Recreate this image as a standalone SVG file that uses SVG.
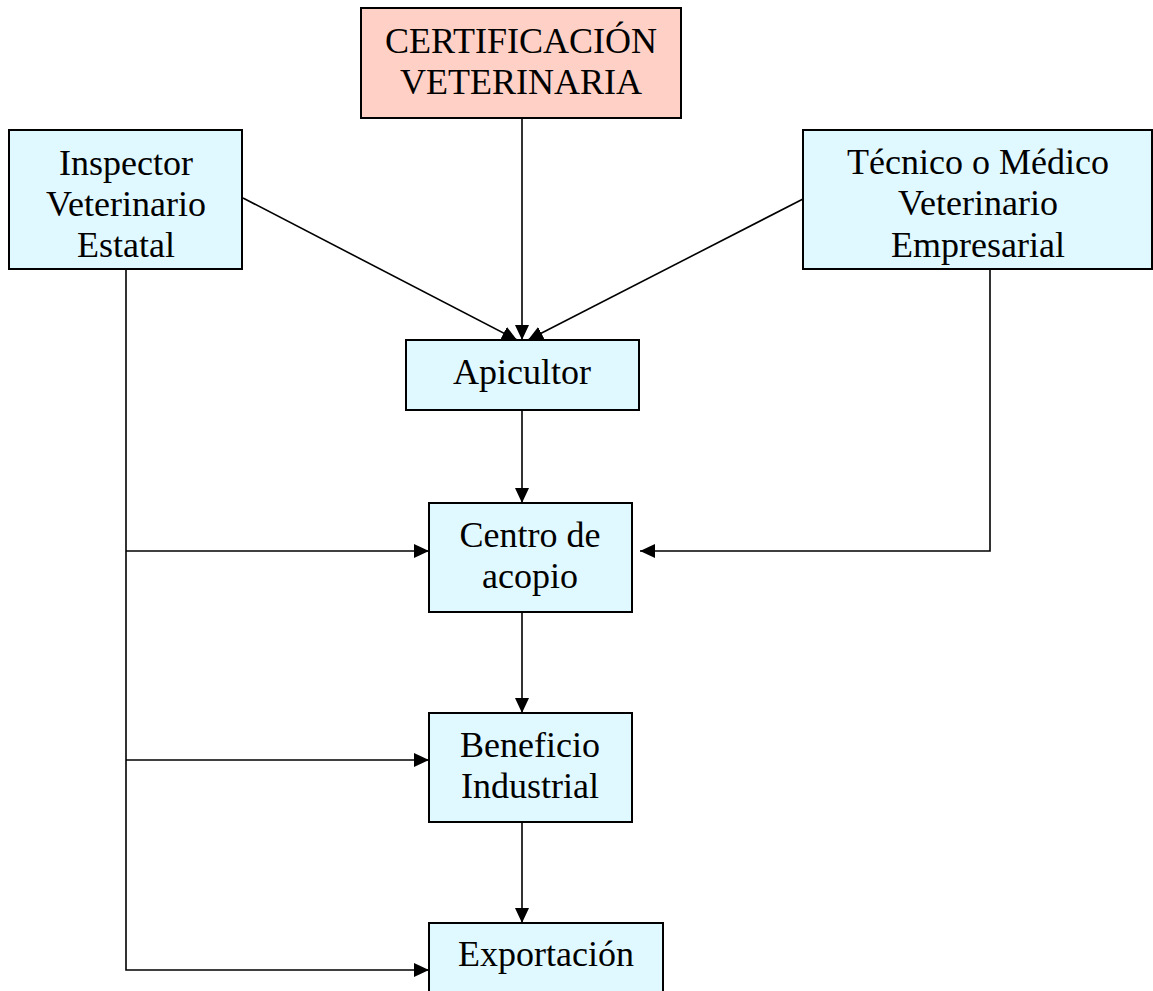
<svg xmlns="http://www.w3.org/2000/svg" width="1153" height="991" viewBox="0 0 1153 991">
<style>
.box{fill:#e0f8ff;stroke:#000;stroke-width:2}
.pink{fill:#ffd0c6;stroke:#000;stroke-width:2}
.t{font-family:"Liberation Serif","Times New Roman",serif;font-size:36px;fill:#000;text-anchor:middle}
.c{fill:none;stroke:#000;stroke-width:1.6}
</style>
<defs>
<marker id="ah" markerWidth="15" markerHeight="14" refX="15" refY="7" orient="auto" markerUnits="userSpaceOnUse">
<path d="M0,0 L15,7 L0,14 Z" fill="#000"/>
</marker>
</defs>
<rect width="1153" height="991" fill="#fff"/>
<g id="connectors">
<path class="c" d="M522,118 V340" marker-end="url(#ah)"/>
<path class="c" d="M243,198 L517,340" marker-end="url(#ah)"/>
<path class="c" d="M803,199 L528,340" marker-end="url(#ah)"/>
<path class="c" d="M522,410 V503" marker-end="url(#ah)"/>
<path class="c" d="M522,612 V713" marker-end="url(#ah)"/>
<path class="c" d="M522,822 V923" marker-end="url(#ah)"/>
<path class="c" d="M126,269 V970 H429" marker-end="url(#ah)"/>
<path class="c" d="M126,551 H429" marker-end="url(#ah)"/>
<path class="c" d="M126,760 H429" marker-end="url(#ah)"/>
<path class="c" d="M990,269 V551 H640" marker-end="url(#ah)"/>
</g>
<g id="certificacion">
<rect class="pink" x="361" y="8" width="320" height="110"/>
<text class="t" x="521" y="53">CERTIFICACIÓN</text>
<text class="t" x="521" y="94">VETERINARIA</text>
</g>
<g id="inspector">
<rect class="box" x="9" y="130" width="233" height="139"/>
<text class="t" x="126" y="175">Inspector</text>
<text class="t" x="126" y="216">Veterinario</text>
<text class="t" x="126" y="257">Estatal</text>
</g>
<g id="tecnico">
<rect class="box" x="803" y="130" width="349" height="139"/>
<text class="t" x="978" y="174">Técnico o Médico</text>
<text class="t" x="978" y="215">Veterinario</text>
<text class="t" x="978" y="257">Empresarial</text>
</g>
<g id="apicultor">
<rect class="box" x="406" y="340" width="233" height="70"/>
<text class="t" x="522" y="384">Apicultor</text>
</g>
<g id="centro">
<rect class="box" x="429" y="503" width="203" height="109"/>
<text class="t" x="530" y="547">Centro de</text>
<text class="t" x="530" y="588">acopio</text>
</g>
<g id="beneficio">
<rect class="box" x="429" y="713" width="203" height="109"/>
<text class="t" x="530" y="757">Beneficio</text>
<text class="t" x="530" y="798">Industrial</text>
</g>
<g id="exportacion">
<rect class="box" x="429" y="923" width="234" height="80"/>
<text class="t" x="546" y="966">Exportación</text>
</g>
</svg>
